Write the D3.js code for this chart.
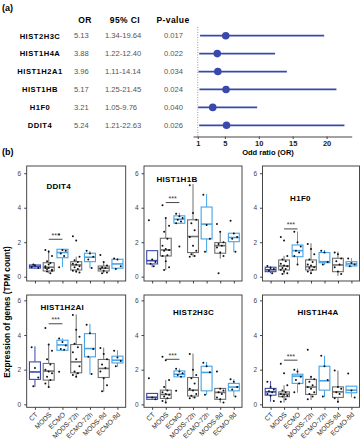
<!DOCTYPE html>
<html>
<head>
<meta charset="utf-8">
<script src="https://cdn.jsdelivr.net/npm/d3@7"></script>
<style>
  body { margin: 0; background: #fff; }
  text { font-family: "Liberation Sans", Arial, sans-serif; }
</style>
</head>
<body>
<div id="chart"></div>
<script>

// ---- panel (a) data ----
var forestGenes = ["HIST2H3C", "HIST1H4A", "HIST1H2A1", "HIST1HB", "H1F0", "DDIT4"];
var orValues = [5.13, 3.88, 3.96, 5.17, 3.21, 5.24];
var ciLow = [1.34, 1.22, 1.11, 1.25, 1.05, 1.21];
var ciHigh = [19.64, 12.40, 14.14, 21.45, 9.76, 22.63];
var ciLabels = ["1.34-19.64", "1.22-12.40", "1.11-14.14", "1.25-21.45", "1.05-9.76", "1.21-22.63"];
var pLabels = ["0.017", "0.022", "0.034", "0.024", "0.040", "0.026"];
var orTicks = [1, 5, 10, 15, 20];

// ---- panel (b) data ----
var groups = ["CT", "MODS", "ECMO", "MODS-72h", "ECMO-72h", "MODS-8d", "ECMO-8d"];
var genes = ["DDIT4", "HIST1H1B", "H1F0", "HIST1H2AI", "HIST2H3C", "HIST1H4A"];
var yTicks = [0, 2, 4, 6];
var sigLevels = [2.17, 4.3, 2.77, 4.65, 2.6, 2.55];

// box stats per group: [low whisker, q1, median, q3, high whisker]
var ddit4Box = [[0.45,0.5,0.6,0.68,0.72],[0.2,0.33,0.55,0.81,1.55],[0.55,1.1,1.4,1.59,1.6],[0.23,0.39,0.68,0.87,1.16],[0.49,0.87,1.13,1.36,1.5],[0.2,0.33,0.49,0.62,0.87],[0.45,0.49,0.74,1.01,1.05]];
var ddit4Pts = [[0.55,0.65,0.5,0.7],[1.55,1.45,1.2,0.9,0.8,0.6,0.5,0.4,0.3,0.2,0.5,0.7,0.35,0.45],[2.45,1.55,1.5,1.35,1.2,0.55],[2.35,2.1,1.15,0.95,0.85,0.75,0.7,0.6,0.55,0.45,0.35,0.3,0.25],[1.5,1.35,1.15,1.0,0.5],[1.26,0.85,0.65,0.55,0.5,0.45,0.35,0.25,0.2],[1.05,1.0,0.6,0.45]];

var h1bBox = [[0.55,0.74,0.93,1.51,1.51],[0.39,1.2,1.55,2.23,3.4],[3.05,3.1,3.33,3.53,3.7],[1.16,1.4,2.33,3.3,5.37],[1.4,2.19,3.05,4.04,4.8],[1.05,1.36,1.8,1.98,2.6],[1.42,2.03,2.27,2.52,2.55]];
var h1bPts = [[3.28,1.0,0.85,0.75,0.6],[4.15,3.4,2.95,2.6,2.2,1.8,1.6,1.55,1.5,1.25,1.2,0.9,0.55,0.39],[3.65,3.5,3.4,3.3,3.2,3.1,1.75],[5.3,3.7,3.3,3.1,2.7,2.3,1.8,1.5,1.3,1.2,1.15],[4.75,3.0,2.2,1.45],[3.05,2.6,2.0,1.9,1.8,1.7,1.4,1.2,0.2],[3.25,2.5,2.3,2.2,1.45]];

var h1f0Box = [[0.2,0.29,0.4,0.55,0.62],[0.14,0.39,0.62,0.97,1.21],[0.68,1.16,1.51,1.84,2.62],[0.2,0.39,0.58,0.97,1.94],[0.68,0.81,0.87,1.4,1.55],[0.05,0.29,0.68,1.07,1.45],[0.55,0.62,0.74,0.87,1.08]];
var h1f0Pts = [[0.62,0.5,0.45,0.35,0.2],[2.3,2.1,1.2,1.0,0.9,0.75,0.65,0.6,0.5,0.45,0.4,0.3,0.2,0.15],[2.6,2.0,1.75,1.5,1.4,1.2,0.7],[1.9,1.6,1.3,1.0,0.85,0.7,0.65,0.55,0.5,0.4,0.3,0.2],[1.5,1.4,0.85,0.7],[1.4,1.3,1.05,0.9,0.7,0.55,0.3,0.15],[1.05,0.8,0.7,0.6]];

var h2aiBox = [[1.01,1.44,1.87,2.45,3.35],[0.98,1.4,1.92,2.36,3.45],[3.12,3.12,3.43,3.7,3.81],[1.55,1.82,2.45,3.45,5.19],[1.72,2.74,3.22,4.08,4.65],[0.73,1.55,2.07,2.59,3.27],[2.16,2.39,2.55,2.78,3.12]];
var h2aiPts = [[3.3,2.1,1.55,1.05],[4.4,3.45,3.1,2.6,2.3,2.0,1.9,1.8,1.6,1.4,1.2,1.0],[3.8,3.6,3.4,3.2,3.15,1.88],[5.15,4.3,3.9,3.5,3.3,3.0,2.6,2.2,1.9,1.8,1.7,1.6],[4.6,4.1,3.2,2.75,1.75],[3.25,2.9,2.6,2.3,2.1,1.9,1.5,1.1,0.75],[3.1,2.7,2.5,2.2]];

var h2h3cBox = [[0.28,0.29,0.41,0.63,0.63],[0.09,0.34,0.57,0.82,1.4],[1.59,1.59,1.74,1.93,2.07],[0.35,0.48,0.82,1.55,2.93],[0.55,0.78,1.84,2.2,2.45],[0.09,0.29,0.69,0.92,0.92],[0.45,0.78,1.0,1.21,1.45]];
var h2h3cPts = [[1.5,0.4,0.3],[2.75,2.55,1.4,1.0,0.8,0.7,0.6,0.55,0.45,0.35,0.2,0.1],[2.05,1.9,1.8,1.7,1.6,0.78],[2.9,2.0,1.7,1.5,1.2,0.9,0.8,0.6,0.5,0.4,0.35],[2.4,2.2,1.85,0.55],[1.9,0.9,0.8,0.7,0.6,0.4,0.3,0.1],[1.45,1.3,1.0,0.85,0.45]];

var h4aBox = [[0.15,0.53,0.72,0.92,1.35],[0.1,0.44,0.59,0.72,1.1],[0.67,1.21,1.63,1.74,2.07],[0.25,0.57,1.0,1.44,1.6],[0.41,0.82,1.36,2.2,2.8],[0.1,0.4,0.72,1.01,1.95],[0.4,0.67,0.82,1.05,1.05]];
var h4aPts = [[1.3,1.0,0.85,0.75,0.7,0.6,0.5,0.2],[2.35,1.8,1.1,0.8,0.7,0.6,0.55,0.5,0.45,0.3,0.15],[2.0,1.9,1.6,1.4,1.2,0.7],[3.15,1.6,1.45,1.3,1.1,1.0,0.9,0.7,0.6,0.45,0.3],[2.8,2.2,1.4,0.45],[1.95,1.0,0.9,0.7,0.6,0.35,0.15],[1.78,0.8,0.4]];

var boxData = [ddit4Box, h1bBox, h1f0Box, h2aiBox, h2h3cBox, h4aBox];
var pointData = [ddit4Pts, h1bPts, h1f0Pts, h2aiPts, h2h3cPts, h4aPts];

// ---- layout / style ----
var width = 363, height = 440;
var blue = "#3a48ab", lightBlue = "#45a3e6", gray = "#707070";
var groupColors = [blue, gray, lightBlue, gray, lightBlue, gray, lightBlue];

var svg = d3.select("#chart").append("svg")
  .attr("width", width)
  .attr("height", height);

// ================= (a) forest plot =================
svg.append("text").attr("x", 2).attr("y", 11)
  .style("font-size", "9px").style("font-weight", "bold").text("(a)");

var fx = d3.scaleLinear().domain([0.3, 23.7]).range([193, 351.7]);
var fy = d3.scalePoint().domain(forestGenes).range([35.7, 125.3]);

var headers = [["OR", 85], ["95% CI", 125], ["P-value", 173]];
svg.selectAll(".hdr").data(headers).enter().append("text")
  .attr("class", "hdr")
  .attr("x", function(d) { return d[1]; })
  .attr("y", 23)
  .attr("text-anchor", "middle")
  .style("font-size", "8.5px").style("font-weight", "bold")
  .style("letter-spacing", "0.4px")
  .text(function(d) { return d[0]; });

var rowsG = svg.selectAll(".frow").data(forestGenes).enter().append("g")
  .attr("class", "frow")
  .attr("transform", function(d) { return "translate(0," + fy(d) + ")"; });

rowsG.append("text").attr("x", 40).attr("y", 2.8)
  .attr("text-anchor", "middle")
  .style("font-size", "7.6px").style("font-weight", "bold").style("letter-spacing", "0.5px")
  .text(function(d) { return d; });
rowsG.append("text").attr("x", 74).attr("y", 2.5)
  .style("font-size", "7.6px").style("fill", "#555")
  .text(function(d, i) { return orValues[i].toFixed(2); });
rowsG.append("text").attr("x", 105).attr("y", 2.5)
  .style("font-size", "7.6px").style("fill", "#555")
  .text(function(d, i) { return ciLabels[i]; });
rowsG.append("text").attr("x", 164).attr("y", 2.5)
  .style("font-size", "7.6px").style("fill", "#555")
  .text(function(d, i) { return pLabels[i]; });

// reference line at OR = 1
svg.append("line")
  .attr("x1", fx(1)).attr("x2", fx(1))
  .attr("y1", 27).attr("y2", 136.5)
  .attr("stroke", "#999").attr("stroke-width", 1)
  .attr("stroke-dasharray", "1,1.5");

rowsG.append("line")
  .attr("x1", function(d, i) { return fx(ciLow[i]); })
  .attr("x2", function(d, i) { return fx(ciHigh[i]); })
  .attr("stroke", blue).attr("stroke-width", 1.8);
rowsG.append("circle")
  .attr("cx", function(d, i) { return fx(orValues[i]); })
  .attr("r", 3.8)
  .attr("fill", blue);

var fAxis = svg.append("g")
  .attr("transform", "translate(0,136.5)")
  .call(d3.axisBottom(fx).tickValues(orTicks).tickSize(2.5).tickSizeOuter(0));
fAxis.select(".domain").attr("stroke", "#444");
fAxis.selectAll(".tick line").attr("stroke", "#444");
fAxis.selectAll("text").style("font-size", "7.5px").style("font-weight", "bold")
  .attr("fill", "#222").attr("dy", "0.55em");

svg.append("text").attr("x", 268).attr("y", 154.5)
  .attr("text-anchor", "middle")
  .style("font-size", "7.5px").style("font-weight", "bold")
  .text("Odd ratio (OR)");

// ================= (b) box plots =================
svg.append("text").attr("x", 2).attr("y", 155)
  .style("font-size", "9px").style("font-weight", "bold").text("(b)");

svg.append("text")
  .attr("transform", "translate(9.5,312) rotate(-90)")
  .attr("text-anchor", "middle")
  .style("font-size", "8.3px").style("font-weight", "bold")
  .text("Expression of genes (TPM count)");

var cols = [[26.7, 125.7], [144, 242], [262.5, 359.5]];
var rowBands = [[166, 281], [295, 407.3]];
var rowDomains = [[-0.25, 6.42], [-0.17, 6.31]];
// title centre offsets from panel left/top
var titleAt = [[32, 22.5], [33, 16], [38, 34.5], [35.5, 14.5], [49.5, 19.5], [55.5, 19.5]];

genes.forEach(function(gene, k) {
  var c = cols[k % 3], r = rowBands[Math.floor(k / 3)];
  var x = d3.scalePoint().domain(groups).range(c).padding(0.6);
  var y = d3.scaleLinear().domain(rowDomains[Math.floor(k / 3)]).range([r[1], r[0]]);
  var bw = x.step() * 0.8;

  var g = svg.append("g");

  // y axis
  var ya = g.append("g")
    .attr("transform", "translate(" + c[0] + ",0)")
    .call(d3.axisLeft(y).tickValues(yTicks).tickFormat(d3.format("d")).tickSize(2.5).tickSizeOuter(0));
  ya.select(".domain").remove();
  ya.selectAll(".tick line").attr("stroke", "#444");
  ya.selectAll("text").style("font-size", "6.5px").attr("fill", "#444");

  // x axis
  var xa = g.append("g")
    .attr("transform", "translate(0," + r[1] + ")")
    .call(d3.axisBottom(x).tickSize(2.5).tickSizeOuter(0));
  xa.select(".domain").remove();
  xa.selectAll(".tick line").attr("stroke", "#444");
  if (k < 3) {
    xa.selectAll("text").remove();
  } else {
    xa.selectAll("text")
      .style("font-size", "6.8px").attr("fill", "#333")
      .attr("text-anchor", "end")
      .attr("dy", "0.35em").attr("y", 0).attr("x", 0)
      .attr("transform", "translate(1,6) rotate(-45)");
  }

  // panel border
  g.append("rect")
    .attr("x", c[0]).attr("y", r[0])
    .attr("width", c[1] - c[0]).attr("height", r[1] - r[0])
    .attr("fill", "none").attr("stroke", "#333").attr("stroke-width", 0.9);

  var stats = boxData[k];
  var bx = g.selectAll(".bx").data(groups).enter().append("g");

  bx.append("line")
    .attr("x1", function(d) { return x(d); }).attr("x2", function(d) { return x(d); })
    .attr("y1", function(d, i) { return y(stats[i][0]); })
    .attr("y2", function(d, i) { return y(stats[i][1]); })
    .attr("stroke", function(d, i) { return groupColors[i]; });
  bx.append("line")
    .attr("x1", function(d) { return x(d); }).attr("x2", function(d) { return x(d); })
    .attr("y1", function(d, i) { return y(stats[i][3]); })
    .attr("y2", function(d, i) { return y(stats[i][4]); })
    .attr("stroke", function(d, i) { return groupColors[i]; });
  bx.append("rect")
    .attr("x", function(d) { return x(d) - bw / 2; })
    .attr("width", bw)
    .attr("y", function(d, i) { return y(stats[i][3]); })
    .attr("height", function(d, i) { return y(stats[i][1]) - y(stats[i][3]); })
    .attr("fill", "#fff")
    .attr("stroke", function(d, i) { return groupColors[i]; })
    .attr("stroke-width", 1.1);
  bx.append("line")
    .attr("x1", function(d) { return x(d) - bw / 2; })
    .attr("x2", function(d) { return x(d) + bw / 2; })
    .attr("y1", function(d, i) { return y(stats[i][2]); })
    .attr("y2", function(d, i) { return y(stats[i][2]); })
    .attr("stroke", function(d, i) { return groupColors[i]; })
    .attr("stroke-width", 1.6);

  // jittered points
  var pts = [];
  pointData[k].forEach(function(vals, i) {
    vals.forEach(function(v, j) {
      pts.push({ grp: groups[i], v: v, off: (((j * 7) % 5) - 2) / 2 });
    });
  });
  g.selectAll(".pt").data(pts).enter().append("circle")
    .attr("cx", function(d) { return x(d.grp) + d.off * bw * 0.3; })
    .attr("cy", function(d) { return y(d.v); })
    .attr("r", 1)
    .attr("fill", "#111");

  // significance bar MODS vs ECMO
  g.append("line")
    .attr("x1", x("MODS")).attr("x2", x("ECMO"))
    .attr("y1", y(sigLevels[k])).attr("y2", y(sigLevels[k]))
    .attr("stroke", "#333").attr("stroke-width", 0.9);
  g.append("text")
    .attr("x", (x("MODS") + x("ECMO")) / 2)
    .attr("y", y(sigLevels[k]) - 1.5)
    .attr("text-anchor", "middle")
    .style("font-size", "7px").attr("fill", "#333")
    .text("***");

  // gene title
  g.append("text")
    .attr("x", c[0] + titleAt[k][0])
    .attr("y", r[0] + titleAt[k][1])
    .attr("text-anchor", "middle")
    .style("font-size", "8px").style("font-weight", "bold").style("letter-spacing", "0.3px")
    .text(gene);
});

</script>
</body>
</html>
